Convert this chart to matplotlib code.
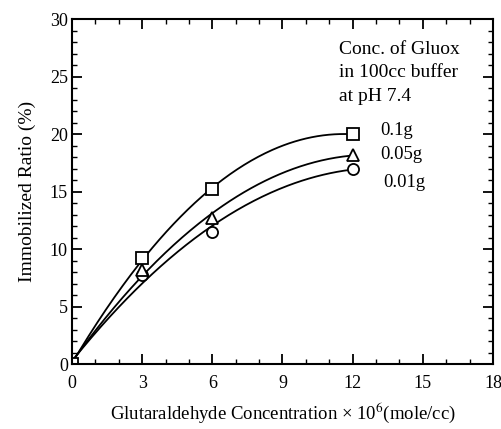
import numpy as np
import matplotlib
matplotlib.use("Agg")
import matplotlib.pyplot as plt

plt.rcParams['font.family'] = ['Liberation Serif', 'DejaVu Serif']
plt.rcParams['mathtext.fontset'] = 'stix'

# data
konc = np.array([0, 3, 6, 12])
kwadraty = np.array([0, 9.2, 15.2, 20.0])     # 0.1g
trojkaty = np.array([0, 8.2, 12.7, 18.2])     # 0.05g
kolka = np.array([0, 7.7, 11.5, 17.0])        # 0.01g
etykiety = ["0.1g", "0.05g", "0.01g"]

fig = plt.figure(figsize=(5.01, 4.29), dpi=100)
ax = fig.add_axes([0.1437, 0.1515, 0.8403, 0.8042])

xs = np.linspace(0, 12, 200)
serie = [(kolka, 'o'), (trojkaty, '^'), (kwadraty, 's')]
for y, m in serie:
    wsp = np.polyfit(konc, y, 2)
    ax.plot(xs, np.polyval(wsp, xs), color='black', lw=1.3)
for y, m in serie:
    ax.plot(konc, y, linestyle='none', marker=m, markersize=8,
            markerfacecolor='white', markeredgecolor='black', markeredgewidth=1.3)

ax.set_xlim(0, 18)
ax.set_ylim(0, 30)
ax.set_xticks(np.arange(0, 19, 3))
ax.set_xticks(np.arange(0, 19, 1), minor=True)
ax.set_yticks(np.arange(0, 31, 5))
ax.set_yticks(np.arange(0, 31, 1), minor=True)
ax.tick_params(which='both', direction='in', top=True, right=True, labelsize=13)
ax.tick_params(axis='x', pad=8)
ax.tick_params(axis='y', pad=3)
ax.tick_params(which='major', length=7, width=1.3)
ax.tick_params(which='minor', length=3.5, width=1)
for s in ax.spines.values():
    s.set_linewidth(1.5)

ax.set_ylabel("Immobilized Ratio (%)", fontsize=14, labelpad=10)
ax.set_xlabel("Glutaraldehyde Concentration × 10$^{6}$(mole/cc)", fontsize=13.5, labelpad=6)

ax.text(11.4, 28.1, "Conc. of Gluox\nin 100cc buffer\nat pH 7.4", fontsize=14,
        va='top', ha='left', linespacing=1.5)
ax.text(13.2, 20.3, etykiety[0], fontsize=13.5, va='center')
ax.text(13.2, 18.2, etykiety[1], fontsize=13.5, va='center')
ax.text(13.3, 15.8, etykiety[2], fontsize=13.5, va='center')

fig.savefig("out.png", dpi=100)
